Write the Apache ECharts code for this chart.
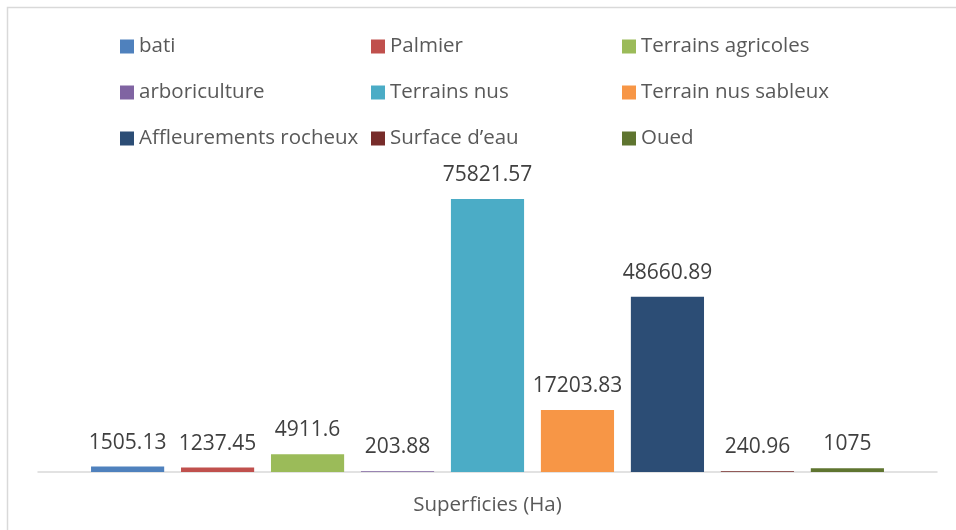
<!DOCTYPE html>
<html>
<head>
<meta charset="utf-8">
<script src="https://cdn.jsdelivr.net/npm/echarts@6/dist/echarts.min.js"></script>
<style>
  html, body { margin: 0; padding: 0; background: #fff; }
  #chart { width: 956px; height: 530px; }
</style>
</head>
<body>
<div id="chart"></div>
<script>
const categories = ['Superficies (Ha)']
const seriesNames = [
  'bati', 'Palmier', 'Terrains agricoles',
  'arboriculture', 'Terrains nus', 'Terrain nus sableux',
  'Affleurements rocheux', 'Surface d\u2019eau', 'Oued'
]
const seriesValues = [1505.13, 1237.45, 4911.6, 203.88, 75821.57, 17203.83, 48660.89, 240.96, 1075]
const colors = ['#4F81BD', '#C0504D', '#9BBB59', '#8064A2', '#4BACC6', '#F79646', '#2C4D75', '#772C2A', '#5F7530']

const chart = echarts.init(document.getElementById('chart'))

// legend laid out in 3 columns, read row by row
const legendCols = [0, 1, 2].map((c) => {
  return {
    orient: 'vertical',
    left: [120, 371, 622][c],
    top: 36,
    padding: 0,
    itemWidth: 14,
    itemHeight: 14,
    itemGap: 25,
    icon: 'rect',
    selectedMode: false,
    textStyle: {
      fontFamily: 'Open Sans',
      fontSize: 20.5,
      lineHeight: 20,
      color: '#595959'
    },
    data: seriesNames.filter((n, i) => i % 3 === c)
  }
})

const option = {
  backgroundColor: '#fff',
  animation: false,
  graphic: [
    {
      type: 'rect',
      shape: { x: 7.5, y: 7.5, width: 980, height: 560 },
      style: { fill: 'none', stroke: '#D9D9D9', lineWidth: 1.5 },
      silent: true
    }
  ],
  legend: legendCols,
  grid: {
    left: 38,
    right: 19,
    top: 184,
    bottom: 58
  },
  xAxis: {
    type: 'category',
    data: categories,
    axisLine: { lineStyle: { color: '#D9D9D9', width: 1.5 } },
    axisTick: { show: false },
    axisLabel: {
      margin: 23,
      fontFamily: 'Open Sans',
      fontSize: 20.5,
      lineHeight: 20,
      color: '#595959'
    }
  },
  yAxis: {
    type: 'value',
    min: 0,
    max: 80000,
    show: false,
    splitLine: { show: false }
  },
  series: seriesNames.map((name, i) => {
    return {
      name: name,
      type: 'bar',
      data: [seriesValues[i]],
      barGap: '23%',
      barCategoryGap: '11.8%',
      itemStyle: { color: colors[i] },
      label: {
        show: true,
        position: 'top',
        distance: 14,
        fontFamily: 'Open Sans',
        fontSize: 21,
        lineHeight: 20,
        color: '#404040'
      }
    }
  })
}

chart.setOption(option)
</script>
</body>
</html>
